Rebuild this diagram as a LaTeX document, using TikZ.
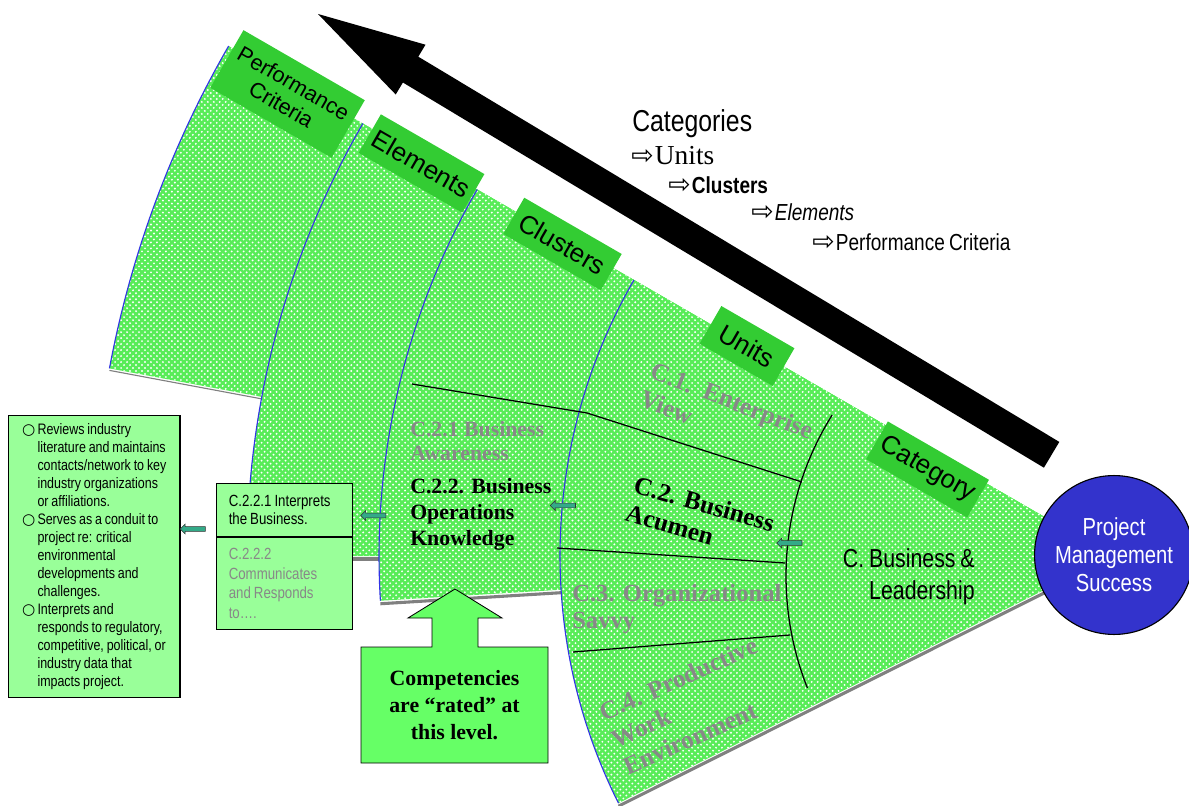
\documentclass[tikz,border=0pt]{standalone}
\usepackage{fontspec}
\setmainfont{Liberation Serif}
\setsansfont{Liberation Sans}
\newfontfamily\narrowsf[FakeStretch=0.82, WordSpace=0.82]{Liberation Sans}
\newfontfamily\symbolsf{DejaVu Sans}
\usetikzlibrary{patterns, shapes.arrows, positioning, calc}
\definecolor{fangreen}{RGB}{88,236,88}
\definecolor{tabgreen}{RGB}{51,204,51}
\definecolor{notegreen}{RGB}{153,255,153}
\definecolor{ratedgreen}{RGB}{102,255,102}
\definecolor{hubblue}{RGB}{51,51,204}
\definecolor{rimblue}{RGB}{51,51,230}
\definecolor{pointerteal}{RGB}{51,170,136}
\definecolor{fadedgray}{RGB}{136,136,136}
\definecolor{shadowgray}{RGB}{128,128,128}
\pgfdeclarepatternformonly{fandots}{\pgfqpoint{-1pt}{-1pt}}{\pgfqpoint{5.252pt}{5.252pt}}%
  {\pgfqpoint{4.252pt}{4.252pt}}{%
  \pgfpathcircle{\pgfqpoint{1.063pt}{1.063pt}}{0.75pt}%
  \pgfpathcircle{\pgfqpoint{3.189pt}{3.189pt}}{0.75pt}%
  \pgfusepath{fill}}

\begin{document}
\begin{tikzpicture}[
    x=0.025cm, y=-0.025cm,
    every node/.style={inner sep=0pt},
    layer/.style={preaction={fill=fangreen}, pattern=fandots, pattern color=white},
    rim/.style={draw=rimblue, line width=0.8pt},
    dropline/.style={draw=shadowgray, line width=2.2pt},
    divider/.style={draw=black, line width=0.9pt},
    tab/.style={fill=tabgreen, rotate=-30, align=center, text=black,
                font=\sffamily\fontsize{18.5}{20}\selectfont},
    unitlabel/.style={anchor=north west, align=flush left,
                      font=\bfseries\fontsize{18}{21}\selectfont},
    clusterlabel/.style={anchor=north west, align=flush left,
                         font=\bfseries\fontsize{15.5}{18.4}\selectfont},
    notebox/.style={draw=black, line width=0.8pt, fill=notegreen},
    pointer/.style={single arrow, draw=black!80, fill=pointerteal, line width=0.4pt,
                    minimum height=18pt, inner sep=1.5pt, single arrow head extend=1.9pt,
                    shape border rotate=180},
    legend/.style={anchor=base west, font=\narrowsf\fontsize{16.5}{18}\selectfont},
    hook/.style={anchor=base west, font=\symbolsf\fontsize{19}{21}\selectfont}
]
\useasboundingbox (0,0) rectangle (1189,806);
\coordinate (hub) at (1112,556);

% fan layers, outermost first
\draw[dropline, line width=0.8pt] ([shift={(0,2)}]hub) -- ++(190.6:1020);
\fill[layer] (hub) -- ++(210:1020) arc[start angle=210, end angle=190.6, radius=1020] -- cycle;
\draw[rim] (hub) ++(210:1020) arc[start angle=210, end angle=190.6, radius=1020];

\draw[dropline] ([shift={(0,3)}]hub) -- ++(180:865);
\fill[layer] (hub) -- ++(210:865) arc[start angle=210, end angle=180, radius=865] -- cycle;
\draw[rim] (hub) ++(210:865) arc[start angle=210, end angle=180, radius=865];

\draw[dropline] ([shift={(0,3)}]hub) -- ++(176.5:733);
\fill[layer] (hub) -- ++(210:733) arc[start angle=210, end angle=176.5, radius=733] -- cycle;
\draw[rim] (hub) ++(210:733) arc[start angle=210, end angle=176.5, radius=733];

\draw[dropline] ([shift={(0,3)}]hub) -- ++(153.4:552);
\fill[layer] (hub) -- ++(210:552) arc[start angle=210, end angle=153.4, radius=552] -- cycle;
\draw[rim] (hub) ++(210:552) arc[start angle=210, end angle=153.4, radius=552];

% unit dividers
\coordinate (unitc) at (1090,576);
\draw[divider] (unitc) ++(212:304) arc[start angle=212, end angle=158.4, radius=304];
\draw[divider] (412,384) -- (587,413) -- (802,482);
\draw[divider] (557,548) -- (785,563);
\draw[divider] (573,652) -- (790,635);

% big arrow
\fill (318,14) -- (425.5,44.7) -- (418.3,56.7) -- (1059.3,441.9) -- (1043.9,467.7)
      -- (402.9,82.5) -- (395.7,94.5) -- cycle;

% tabs along the top edge
\node (pctab) [tab, minimum width=99.6pt, minimum height=47.3pt,
               font=\sffamily\fontsize{15.5}{17.5}\selectfont] at (287.5,94) {Performance\\Criteria};
\node (elemtab) [tab, minimum width=85pt, minimum height=31.7pt] at (421.5,163.5) {Elements};
\node (clustab) [tab, minimum width=80pt, minimum height=29.8pt] at (562.5,244) {Clusters};
\node (unittab) [tab, minimum width=60pt, minimum height=31pt] at (747,346) {Units};
\node (cattab) [tab, minimum width=83pt, minimum height=31pt] at (927.5,469.5) {Category};

% legend
\node (categories) [legend, font=\narrowsf\fontsize{21.5}{24}\selectfont] at (632,131.7) {Categories};
\node (hookunits) [hook] at (631,165) {⇨};
\node (unitsword) [anchor=base west, font=\fontsize{19.5}{22}\selectfont]
      at ([xshift=0.5pt]hookunits.base east) {Units};
\node (hookclus) [hook] at (668,193.7) {⇨};
\node (clusword) [legend, font=\narrowsf\bfseries\fontsize{16.5}{18}\selectfont]
      at ([xshift=0.5pt]hookclus.base east) {Clusters};
\node (hookelem) [hook] at (751,221) {⇨};
\node (elemword) [legend, font=\narrowsf\itshape\fontsize{16.5}{18}\selectfont]
      at ([xshift=0.5pt]hookelem.base east) {Elements};
\node (hookcrit) [hook] at (812,250.3) {⇨};
\node (critword) [legend] at ([xshift=0.5pt]hookcrit.base east) {Performance Criteria};

% units and clusters
\node (enterprise) [unitlabel, text=fadedgray, rotate=-21] at (655,361) {C.1.\ \ Enterprise\\View};
\node (acumen) [unitlabel, rotate=-16] at (637,475) {C.2. Business\\Acumen};
\node (savvy) [unitlabel, text=fadedgray, font=\bfseries\fontsize{17.5}{19}\selectfont]
      at (572,584) {C.3. Organizational\\Savvy};
\node (productive) [unitlabel, text=fadedgray, rotate=24] at (597,705) {C.4. Productive\\Work\\Environment};
\node (awareness) [clusterlabel, text=fadedgray, font=\bfseries\fontsize{15.5}{17}\selectfont]
      at (410,421) {C.2.1 Business\\Awareness};
\node (operations) [clusterlabel] at (410,478) {C.2.2. Business\\Operations\\Knowledge};
\node (leadership) [anchor=north east, align=flush right, font=\narrowsf\fontsize{18.5}{23}\selectfont]
      at (975,548) {C. Business \&\\Leadership};

% hub
\node (success) [circle, draw=black, line width=0.8pt, fill=hubblue, minimum size=113pt,
                 align=center, text=white, font=\narrowsf\fontsize{17.5}{20}\selectfont]
      at (1114,555) {Project\\Management\\Success};

% rated note
\filldraw[draw=black, line width=0.6pt, fill=ratedgreen] (361,763) -- (361,647) -- (432,647)
    -- (432,618) -- (408,618) -- (455,589) -- (502,618) -- (478,618) -- (478,647)
    -- (548,647) -- (548,763) -- cycle;
\node (rated) [align=center, font=\bfseries\fontsize{15.5}{19}\selectfont]
      at (454.5,705) {Competencies\\are “rated” at\\this level.};

% element box
\node (interprets) [notebox, minimum width=96.4pt, minimum height=37.6pt, text width=79pt,
                    align=flush left, anchor=north west, font=\narrowsf\fontsize{11.5}{13}\selectfont]
      at (216,483) {C.2.2.1 Interprets\\the Business.};
\node (responds) [notebox, minimum width=96.4pt, minimum height=65.2pt, text width=79pt,
                  align=flush left, text=fadedgray, font=\narrowsf\fontsize{11.5}{14}\selectfont,
                  below=0pt of interprets] {C.2.2.2\\Communicates\\and Responds\\to….};

% performance criteria box
\node (criteria) [notebox, minimum width=121.9pt, minimum height=200.6pt, anchor=north west,
                  font=\narrowsf\fontsize{10.8}{12.8}\selectfont] at (8,415) {%
  \begin{tabular}{@{}l@{\hspace{1.5pt}}l@{}}
    {\symbolsf ○} & Reviews industry\\
    & literature and maintains\\
    & contacts/network to key\\
    & industry organizations\\
    & or affiliations.\\
    {\symbolsf ○} & Serves as a conduit to\\
    & project re: critical\\
    & environmental\\
    & developments and\\
    & challenges.\\
    {\symbolsf ○} & Interprets and\\
    & responds to regulatory,\\
    & competitive, political, or\\
    & industry data that\\
    & impacts project.
  \end{tabular}};

% pointers
\node (ptrunit) [pointer] at (790.5,543) {};
\node (ptrclus) [pointer] at (564,505.5) {};
\node (ptrelem) [pointer] at (374.5,515.5) {};
\node (ptrcrit) [pointer] at (194,529) {};

\end{tikzpicture}
\end{document}
